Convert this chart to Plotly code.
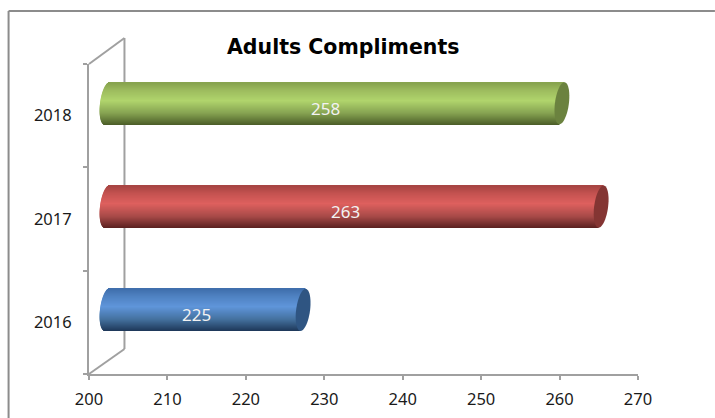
import math
import plotly.graph_objects as go

YEARS = ["2016", "2017", "2018"]
COMPLIMENTS = [225, 263, 258]
TITLE = "Adults Compliments"
X_TICKS = [200, 210, 220, 230, 240, 250, 260, 270]

# colour ramps of the cylinders, top edge -> highlight -> bottom edge
RAMPS = [
    [(0.0, "#3F6EAB"), (0.18, "#4F82C2"), (0.42, "#5F95DA"), (0.72, "#44719F"), (1.0, "#1D3658")],
    [(0.0, "#A64442"), (0.18, "#C45250"), (0.42, "#DE605E"), (0.72, "#A84A48"), (1.0, "#5A201F")],
    [(0.0, "#86A24E"), (0.18, "#9DBC5E"), (0.42, "#B0D46C"), (0.72, "#85A251"), (1.0, "#4A5C27")],
]
CAPS = ["#2F5582", "#843533", "#6B823F"]

W, H = 715, 418
L, R, T, B = 88.5, 638.0, 64.0, 374.0
PW, PH = R - L, B - T
def px(x): return (x - L) / PW
def py(y): return (B - y) / PH

DX, DY = 2.3, 0.12          # 3-D depth of the bars in axis units
N = 42                      # number of shading stripes
BAR_H = 0.4065              # bar thickness in category units
CAP_RX = 7                  # end-cap half width, px
CAP_RY = 21
TILT = 2.5                  # lean of the end ellipses, px

def hex2rgb(c): return [int(c[i:i+2], 16) for i in (1, 3, 5)]
def ramp(stops, t):
    for (a, ca), (b, cb) in zip(stops, stops[1:]):
        if t <= b:
            f = (t - a) / (b - a)
            ra, rb = hex2rgb(ca), hex2rgb(cb)
            return "rgb(%d,%d,%d)" % tuple(round(p + (q - p) * f) for p, q in zip(ra, rb))
    return stops[-1][1]

fig = go.Figure()

# keeps the front axes alive
fig.add_trace(go.Scatter(x=COMPLIMENTS, y=YEARS, mode="none", hoverinfo="skip", showlegend=False))

unit = PW / 70.0
for i in range(N):
    pos = (i + 0.5) / N                 # 0 = bottom, 1 = top
    u = 2 * pos - 1
    lean = TILT * u / unit
    bulge = CAP_RX / unit * math.sqrt(max(0.0, 1 - u * u))
    base = [200 - bulge + lean] * len(YEARS)
    fig.add_trace(go.Bar(
        orientation="h",
        y=YEARS,
        x=[v + lean - b for v, b in zip(COMPLIMENTS, base)],
        base=base,
        offset=(i / N - 0.5) * BAR_H,
        width=BAR_H / N * 1.3,
        marker=dict(color=[ramp(s, 1 - pos) for s in RAMPS], line=dict(width=0)),
        xaxis="x2", yaxis="y2",
        hoverinfo="skip", showlegend=False,
    ))

# leaning ellipse of the bar end, in pixels round its anchor
cap_pts = []
for k in range(48):
    a = 2 * math.pi * k / 48
    ex, ey = CAP_RX * math.cos(a), CAP_RY * math.sin(a)
    cap_pts.append((ex + TILT * ey / CAP_RY, ey))
CAP_PATH = "M " + " L ".join("%.2f,%.2f" % p for p in cap_pts) + " Z"

GRAY = "#A0A0A0"
shapes = [
    # outer chart frame
    dict(type="line", xref="paper", yref="paper", x0=px(8), x1=px(8), y0=py(11), y1=py(418),
         line=dict(color="#8C8C8C", width=2), layer="below"),
    dict(type="line", xref="paper", yref="paper", x0=px(8), x1=px(715), y0=py(11), y1=py(11),
         line=dict(color="#8C8C8C", width=2), layer="below"),
    # side wall of the 3-D frame
    dict(type="line", xref="paper", yref="paper", x0=px(124), x1=px(124), y0=py(349), y1=py(38),
         line=dict(color=GRAY, width=2), layer="below"),
    dict(type="line", xref="paper", yref="paper", x0=px(88.5), x1=px(124), y0=py(64), y1=py(38),
         line=dict(color=GRAY, width=2), layer="below"),
    dict(type="line", xref="paper", yref="paper", x0=px(88.5), x1=px(124), y0=py(374), y1=py(349),
         line=dict(color=GRAY, width=2), layer="below"),
]
for y, v, c in zip(YEARS, COMPLIMENTS, CAPS):
    shapes.append(dict(
        type="path", xref="x2", yref="y2", xsizemode="pixel", ysizemode="pixel",
        xanchor=v, yanchor=YEARS.index(y), path=CAP_PATH,
        fillcolor=c, line=dict(width=0), layer="above",
    ))

annotations = [
    dict(text=str(v), x=(200 + v) / 2, y=YEARS.index(y), xref="x2", yref="y2", showarrow=False,
         xshift=-8.5, yshift=-5, font=dict(family="Noto Sans", size=17, color="#F2F2F2"))
    for y, v in zip(YEARS, COMPLIMENTS)
]
annotations.append(dict(
    text="<b>%s</b>" % TITLE, xref="paper", yref="paper", x=px(343), y=py(47),
    showarrow=False, xanchor="center", yanchor="middle",
    font=dict(family="DejaVu Sans", size=20.5, color="#000000"),
))

axis_font = dict(family="Noto Sans", size=16.5, color="#1A1A1A")
fig.update_layout(
    width=W, height=H, autosize=False,
    margin=dict(l=L, r=W - R, t=T, b=H - B, pad=0),
    paper_bgcolor="white", plot_bgcolor="rgba(0,0,0,0)",
    barmode="overlay", showlegend=False,
    shapes=shapes, annotations=annotations,
    xaxis=dict(range=[200, 270], tickvals=X_TICKS, ticks="outside", ticklen=4, tickwidth=2,
               tickcolor=GRAY, showline=True, linecolor=GRAY, linewidth=2, showgrid=False,
               zeroline=False, tickfont=axis_font, ticklabelstandoff=5, automargin=False),
    yaxis=dict(type="category", categoryorder="array", categoryarray=YEARS, range=[-0.5, 2.5],
               tickson="boundaries", ticks="outside", ticklen=4, tickwidth=2, tickcolor=GRAY,
               showline=True, linecolor=GRAY, linewidth=2, showgrid=False, zeroline=False,
               tickfont=axis_font, ticklabelstandoff=12, automargin=False),
    xaxis2=dict(overlaying="x", anchor="y", range=[200 - DX, 270 - DX], visible=False, automargin=False),
    yaxis2=dict(overlaying="y", anchor="x", type="category", categoryorder="array",
                categoryarray=YEARS, range=[-0.5 - DY, 2.5 - DY], visible=False, automargin=False),
)

fig.write_html("out.html", config={"displayModeBar": False},
               post_script="document.body.style.margin='0';document.body.style.overflow='hidden';")
